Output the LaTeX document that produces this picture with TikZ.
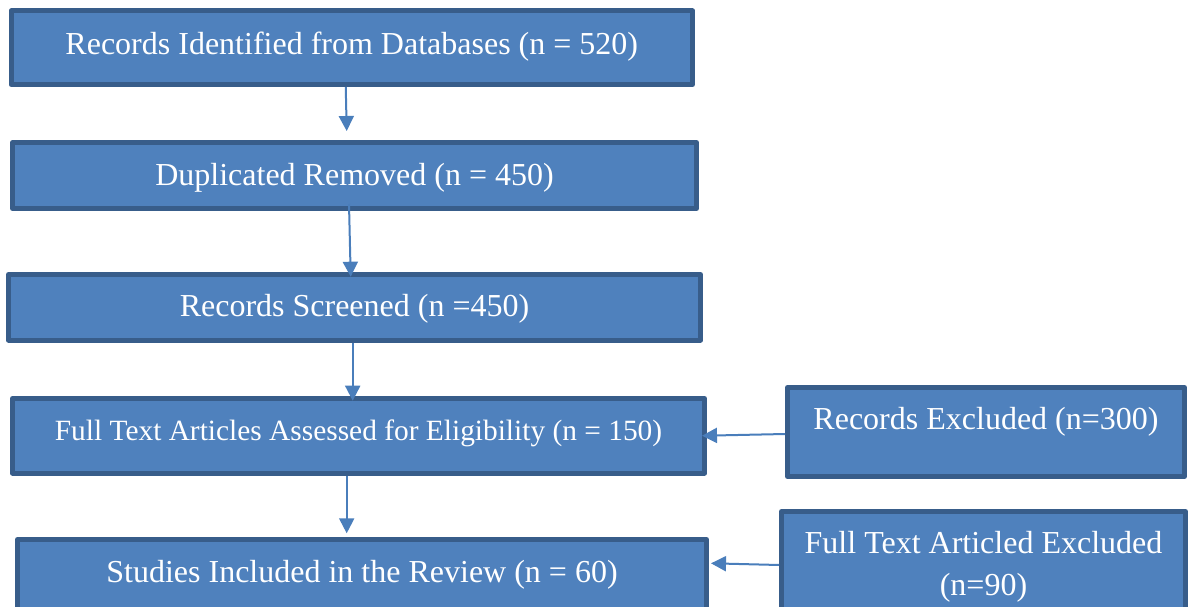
\documentclass[tikz,border=0pt]{standalone}
\usepackage{fontspec}
\setmainfont{Liberation Serif}
\usetikzlibrary{arrows.meta}
\definecolor{boxfill}{HTML}{4F81BD}
\definecolor{boxline}{HTML}{385D8A}
\definecolor{arrcol}{HTML}{4A7EBB}
\tikzset{
  flowbox/.style={draw=boxline, fill=boxfill, line width=5pt, line join=round,
    text=white, inner sep=0pt, font=\fontsize{32}{42}\selectfont, align=center},
  arr/.style={draw=arrcol, line width=2pt,
    -{Triangle[length=15pt,width=15pt]}}
}
\begin{document}
\begin{tikzpicture}[x=1pt,y=-1pt]
\useasboundingbox (0,0) rectangle (1188,607);
\clip (0,0) rectangle (1188,607);
\node[flowbox, minimum width=681.5pt, minimum height=73.5pt, text height=22pt, text depth=9pt] (b1) at (351.75,47.75) {Records Identified from Databases (n = 520)};
\node[flowbox, minimum width=684pt, minimum height=66pt, text height=26pt, text depth=7pt] (b2) at (354.5,175.5) {Duplicated Removed (n = 450)};
\node[flowbox, minimum width=692pt, minimum height=65.5pt, text height=26pt, text depth=7pt] (b3) at (354.5,307.25) {Records Screened (n =450)};
\node[flowbox, minimum width=692pt, minimum height=74.5pt, font=\fontsize{29.4}{38}\selectfont, text height=20pt, text depth=10.5pt] (b4) at (358.5,435.75) {Full Text Articles Assessed for Eligibility (n = 150)};
\node[flowbox, minimum width=689pt, minimum height=70pt] (b5) at (362,574.5) {Studies Included in the Review (n = 60)};
\node[flowbox, minimum width=397pt, minimum height=89pt, text height=22pt, text depth=27pt] (b6) at (986,432) {Records Excluded (n=300)};
\node[flowbox, minimum width=404pt, minimum height=110pt] (b7) at (983.5,566.5) {Full Text Articled Excluded\\(n=90)};
\draw[arr] ([xshift=-6pt]b1.south) -- ([xshift=-7.8pt,yshift=9pt]b2.north);
\draw[arr] ([xshift=-5.5pt,yshift=7pt]b2.south) -- ([xshift=-3.8pt,yshift=-4.7pt]b3.north);
\draw[arr] ([xshift=-1.8pt]b3.south) -- ([xshift=-5.8pt,yshift=-4.7pt]b4.north);
\draw[arr] ([xshift=-11.8pt]b4.south) -- ([xshift=-15.3pt,yshift=3.7pt]b5.north);
\draw[arr] ([yshift=-2pt]b6.west) -- ([xshift=-5pt]b4.east);
\draw[arr] ([yshift=1.5pt]b7.west) -- ([xshift=2pt,yshift=11.2pt]b5.east);
\end{tikzpicture}
\end{document}
